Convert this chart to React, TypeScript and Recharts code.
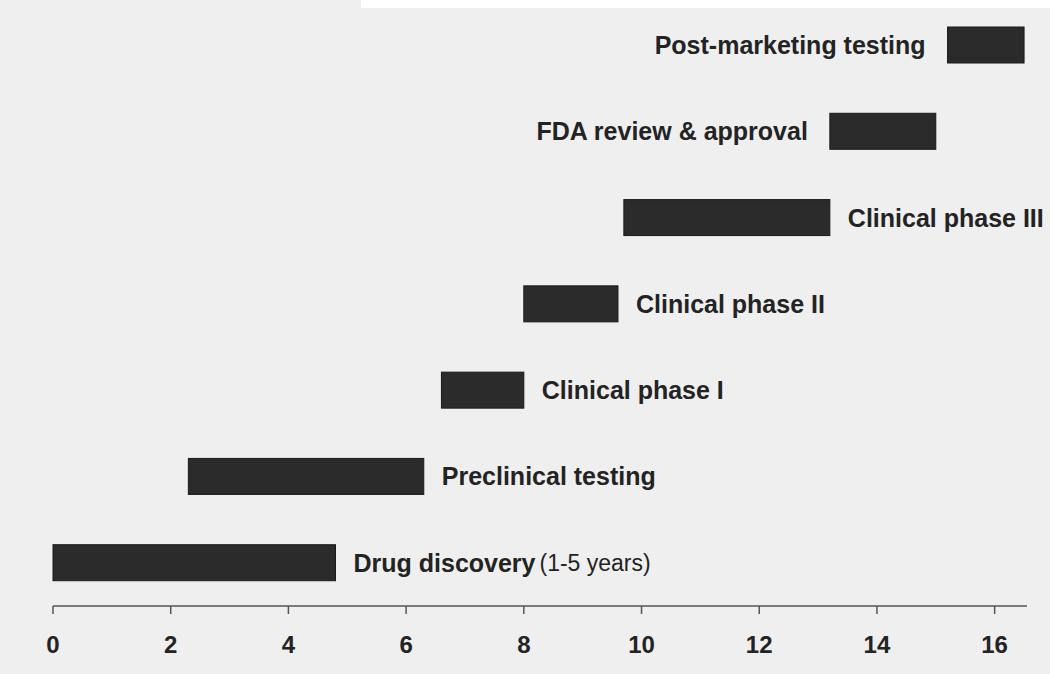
import { BarChart, Bar, XAxis, YAxis } from "recharts";

// phases in process order, years from project start
const phases = [
  "Drug discovery",
  "Preclinical testing",
  "Clinical phase I",
  "Clinical phase II",
  "Clinical phase III",
  "FDA review & approval",
  "Post-marketing testing",
];
const startYear = [0, 2.3, 6.6, 8.0, 9.7, 13.2, 15.2];
const endYear = [4.8, 6.3, 8.0, 9.6, 13.2, 15.0, 16.5];
const notes = ["(1-5 years)", "", "", "", "", "", ""];
const yearTicks = [0, 2, 4, 6, 8, 10, 12, 14, 16];

const data = phases.map((name, i) => ({
  name,
  start: startYear[i],
  span: endYear[i] - startYear[i],
  end: endYear[i],
  note: notes[i],
}));

const INK = "#232323";
const BAR = "#2b2b2b";
const FONT = "'Liberation Sans', Arial, Helvetica, sans-serif";

function PhaseBar(props: any) {
  const { x, y, width, height, payload } = props;
  const cy = y + height / 2;
  // no room on the right for the late phases, so their label sits before the bar
  const onLeft = payload.end > 14;
  return (
    <g>
      <rect x={x} y={y} width={width} height={height} fill={BAR} stroke="#1a1a1a" strokeWidth={1} />
      <text
        x={onLeft ? x - 22 : x + width + 18}
        y={cy}
        textAnchor={onLeft ? "end" : "start"}
        dominantBaseline="central"
        fontFamily={FONT}
        fontSize={25}
        fontWeight="bold"
        fill={INK}
      >
        {payload.name}
        {payload.note ? (
          <tspan fontWeight="normal" fontSize={23} dx={4}>
            {payload.note}
          </tspan>
        ) : null}
      </text>
    </g>
  );
}

export default function App() {
  return (
    <div
      style={{
        position: "fixed",
        left: 0,
        top: 0,
        width: 1050,
        height: 674,
        background: "#efefef",
      }}
    >
      <div style={{ position: "absolute", left: 361, top: 0, width: 689, height: 8, background: "#ffffff" }} />
      <BarChart
        width={1050}
        height={674}
        data={data}
        layout="vertical"
        margin={{ top: 2, right: 23, left: 53, bottom: 8 }}
        barSize={36}
      >
        <XAxis
          type="number"
          domain={[0, 16.55]}
          ticks={yearTicks}
          height={60}
          tickSize={8}
          tickMargin={22}
          axisLine={{ stroke: "#555", strokeWidth: 1.5 }}
          tickLine={{ stroke: "#555", strokeWidth: 1.5 }}
          tick={{ fontSize: 24, fontWeight: "bold", fill: INK, fontFamily: FONT }}
        />
        <YAxis type="category" dataKey="name" reversed hide />
        <Bar dataKey="start" stackId="t" fill="transparent" isAnimationActive={false} />
        <Bar dataKey="span" stackId="t" fill={BAR} shape={PhaseBar} isAnimationActive={false} />
      </BarChart>
    </div>
  );
}
